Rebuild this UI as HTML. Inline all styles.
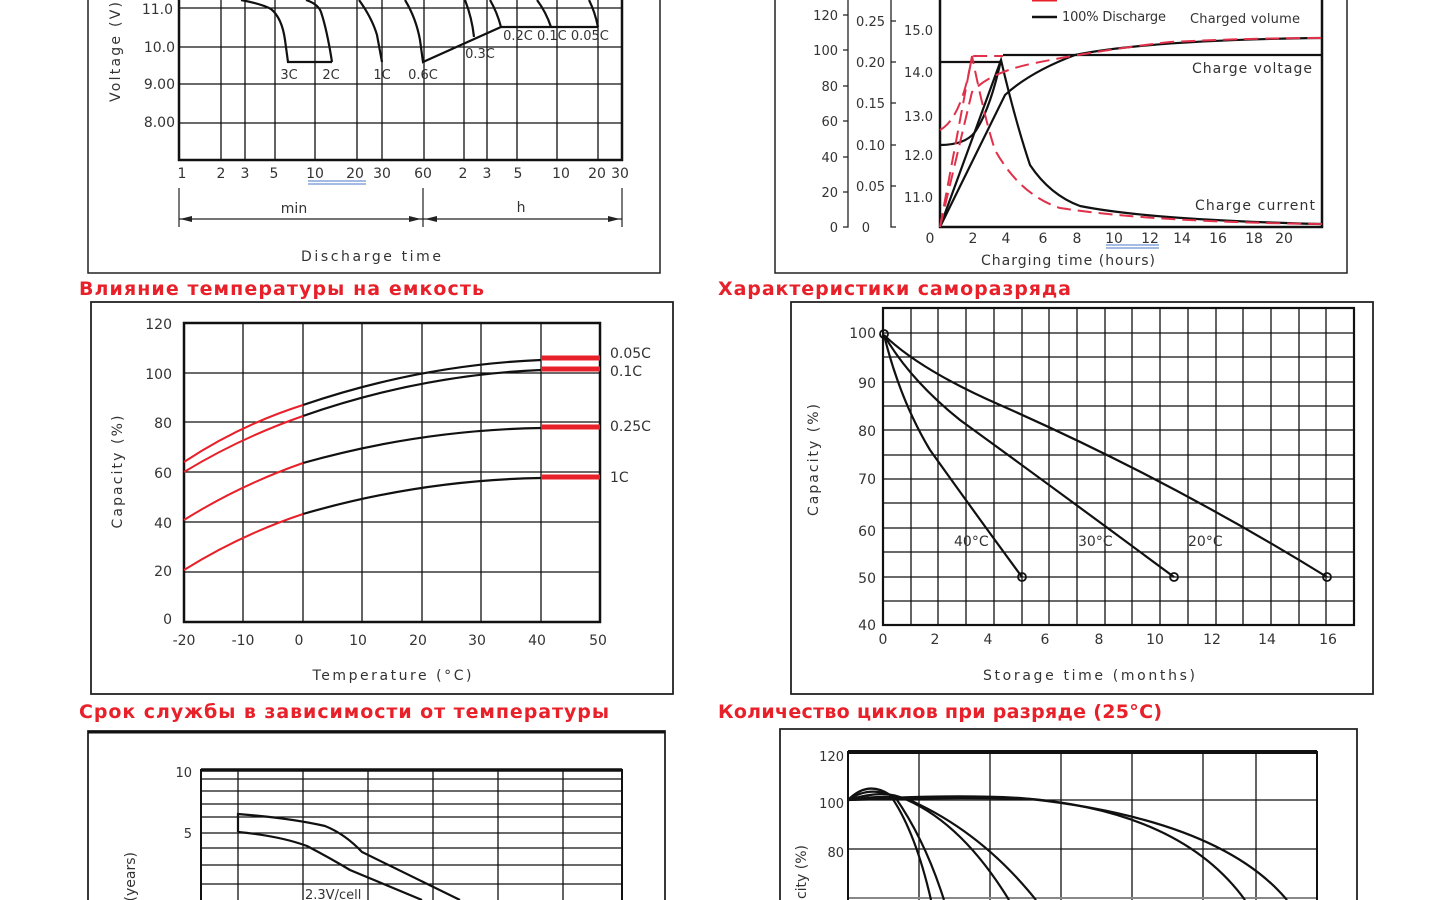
<!DOCTYPE html>
<html><head><meta charset="utf-8"><style>
html,body{margin:0;padding:0;background:#fff;}
svg{display:block;font-family:"DejaVu Sans","Liberation Sans",sans-serif;}
.t{font-size:14px;fill:#333}
.s{font-size:13px;fill:#333}
.h{font-size:19px;font-weight:bold;fill:#e8202a;font-family:"DejaVu Sans","Liberation Sans",sans-serif}
.g{stroke:#111;stroke-width:1.3;fill:none}
.c{stroke:#111;stroke-width:2.2;fill:none}
.r{stroke:#e8202a;stroke-width:2;fill:none}
.rd{stroke:#e0304a;stroke-width:2;fill:none;stroke-dasharray:14,7}
</style></head><body>
<svg width="1440" height="900" viewBox="0 0 1440 900">
<!-- ============ TOP LEFT ============ -->
<path d="M88 0V273H660V0" stroke="#222" stroke-width="1.5" fill="none"/>
<g class="g">
<path d="M179 8H622M179 47H622M179 84H622M179 123H622"/>
<path d="M221 0V160M245 0V160M275 0V160M315 0V160M357 0V160M382 0V160M424 0V160M464 0V160M487 0V160M517 0V160M557 0V160M598 0V160"/>
</g>
<path d="M179 0V160H622V0" stroke="#111" stroke-width="2.5" fill="none"/>
<g class="c">
<path d="M241 0Q262 4 271 9Q282 18 285 40L288 62H332"/>
<path d="M306 0Q318 4 321 12Q327 30 332 62"/>
<path d="M359 0Q372 18 377 35L382 62"/>
<path d="M405 0Q416 18 420 40L423 62L501 27H598"/>
<path d="M465 0Q472 18 474 37"/>
<path d="M490 0Q497 12 501 27"/>
<path d="M537 0Q546 12 551 27"/>
<path d="M589 0Q595 12 598 27"/>
</g>
<g class="s" text-anchor="middle">
<text x="289" y="79">3C</text><text x="331" y="79">2C</text><text x="382" y="79">1C</text><text x="423" y="79">0.6C</text>
<text x="480" y="58">0.3C</text><text x="556" y="40">0.2C 0.1C 0.05C</text>
</g>
<g class="t" text-anchor="end"><text x="173" y="14">11.0</text><text x="175" y="52">10.0</text><text x="175" y="89">9.00</text><text x="175" y="127">8.00</text></g>
<text class="t" transform="translate(120,52) rotate(-90)" text-anchor="middle" font-size="16" textLength="100">Voltage (V)</text>
<g class="t" text-anchor="middle">
<text x="182" y="178">1</text><text x="221" y="178">2</text><text x="245" y="178">3</text><text x="274" y="178">5</text><text x="315" y="178">10</text><text x="355" y="178">20</text><text x="382" y="178">30</text><text x="423" y="178">60</text><text x="463" y="178">2</text><text x="487" y="178">3</text><text x="518" y="178">5</text><text x="561" y="178">10</text><text x="597" y="178">20</text><text x="620" y="178">30</text>
</g>
<path d="M308 181H366M308 184H366" stroke="#4a78c8" stroke-width="1"/>
<path d="M179 188V227M423 188V227M622 188V227M179 219H622" stroke="#222" stroke-width="1.2" fill="none"/>
<path d="M180 219l12-3v6zM421 219l-12-3v6zM425 219l12-3v6zM620 219l-12-3v6z" fill="#222"/>
<text x="294" y="213" class="t" font-size="16" text-anchor="middle">min</text>
<text x="521" y="212" class="t" font-size="16" text-anchor="middle">h</text>
<text x="371" y="261" class="t" font-size="17" text-anchor="middle" textLength="140">Discharge time</text>

<!-- ============ TOP RIGHT ============ -->
<path d="M775 0V273H1347V0" stroke="#222" stroke-width="1.5" fill="none"/>
<path d="M940 0V227H1322V0" stroke="#111" stroke-width="2.5" fill="none"/>
<path d="M848 0V227H843M843 15h5M843 50h5M843 86h5M843 121h5M843 157h5M843 192h5" stroke="#222" stroke-width="1.3" fill="none"/>
<path d="M891 0V227H896M891 21h5M891 62h5M891 103h5M891 145h5M891 186h5" stroke="#222" stroke-width="1.3" fill="none"/>
<g class="s" text-anchor="end">
<text x="838" y="20">120</text><text x="838" y="55">100</text><text x="838" y="91">80</text><text x="838" y="126">60</text><text x="838" y="162">40</text><text x="838" y="197">20</text><text x="838" y="232">0</text>
<text x="885" y="26">0.25</text><text x="885" y="67">0.20</text><text x="885" y="108">0.15</text><text x="885" y="150">0.10</text><text x="885" y="191">0.05</text><text x="870" y="232">0</text>
<text x="933" y="35">15.0</text><text x="933" y="77">14.0</text><text x="933" y="121">13.0</text><text x="933" y="160">12.0</text><text x="933" y="202">11.0</text>
</g>
<path d="M1032 0H1057" stroke="#e8202a" stroke-width="3"/>
<path d="M1032 17H1057" stroke="#111" stroke-width="2.5"/>
<text x="1062" y="21" class="s" textLength="104">100% Discharge</text>
<text x="1190" y="23" class="s" textLength="110">Charged volume</text>
<text x="1192" y="73" class="t" textLength="120">Charge voltage</text>
<text x="1195" y="210" class="t" textLength="120">Charge current</text>
<g class="c" stroke-width="2">
<path d="M940 62H1001M1003 55H1322"/>
<path d="M940 145Q965 145 975 132Q990 110 1001 60"/>
<path d="M940 227L1001 60Q1015 120 1030 165Q1050 195 1080 206Q1150 220 1322 224"/>
<path d="M940 227L1005 95Q1030 72 1075 55Q1150 40 1322 38"/>
</g>
<g class="rd">
<path d="M940 130Q962 118 972 56H1003"/>
<path d="M940 227L972 56Q985 120 995 150Q1020 195 1060 208Q1150 222 1322 224"/>
<path d="M940 227L972 92Q990 72 1035 63Q1100 50 1170 42Q1250 38 1322 38"/>
</g>
<g class="t" text-anchor="middle">
<text x="930" y="243">0</text><text x="973" y="243">2</text><text x="1006" y="243">4</text><text x="1043" y="243">6</text><text x="1077" y="243">8</text><text x="1114" y="243">10</text><text x="1150" y="243">12</text><text x="1182" y="243">14</text><text x="1218" y="243">16</text><text x="1254" y="243">18</text><text x="1284" y="243">20</text>
</g>
<path d="M1106 245H1159M1106 248H1159" stroke="#4a78c8" stroke-width="1"/>
<text x="1068" y="265" class="t" font-size="16" text-anchor="middle" textLength="174">Charging time (hours)</text>

<!-- headers -->
<text x="79" y="295" class="h" textLength="405">Влияние температуры на емкость</text>
<text x="718" y="295" class="h" textLength="353">Характеристики саморазряда</text>
<text x="79" y="718" class="h" textLength="530">Срок службы в зависимости от температуры</text>
<text x="718" y="718" class="h" textLength="444">Количество циклов при разряде (25°C)</text>

<!-- ============ MIDDLE LEFT ============ -->
<rect x="91" y="302" width="582" height="392" fill="none" stroke="#222" stroke-width="1.8"/>
<g class="g">
<path d="M184 373H600M184 422H600M184 472H600M184 522H600M184 572H600"/>
<path d="M243 323V622M303 323V622M362 323V622M422 323V622M481 323V622M541 323V622"/>
</g>
<rect x="184" y="323" width="416" height="299" fill="none" stroke="#111" stroke-width="2.5"/>
<g class="r">
<path d="M184 462Q240 425 303 405"/><path d="M184 472Q240 438 303 416"/>
<path d="M184 520Q240 485 303 463"/><path d="M184 570Q240 535 303 514"/>
</g>
<g class="c" stroke-width="2">
<path d="M303 405Q420 365 541 360"/><path d="M303 416Q420 375 541 370"/>
<path d="M303 463Q420 430 541 428"/><path d="M303 514Q420 480 541 478"/>
</g>
<g stroke="#e8202a" stroke-width="5"><path d="M541 358H600M541 369H600M541 427H600M541 477H600"/></g>
<g class="t"><text x="610" y="358">0.05C</text><text x="610" y="376">0.1C</text><text x="610" y="431">0.25C</text><text x="610" y="482">1C</text></g>
<g class="t" text-anchor="end" font-size="15">
<text x="172" y="329">120</text><text x="172" y="379">100</text><text x="172" y="428">80</text><text x="172" y="478">60</text><text x="172" y="528">40</text><text x="172" y="576">20</text><text x="172" y="624">0</text>
</g>
<g class="t" text-anchor="middle" font-size="15">
<text x="184" y="645">-20</text><text x="243" y="645">-10</text><text x="299" y="645">0</text><text x="358" y="645">10</text><text x="418" y="645">20</text><text x="477" y="645">30</text><text x="537" y="645">40</text><text x="598" y="645">50</text>
</g>
<text x="392" y="680" class="t" font-size="18" text-anchor="middle" textLength="159">Temperature (°C)</text>
<text class="t" font-size="17" transform="translate(122,472) rotate(-90)" text-anchor="middle" textLength="113">Capacity (%)</text>

<!-- ============ MIDDLE RIGHT ============ -->
<rect x="791" y="302" width="582" height="392" fill="none" stroke="#222" stroke-width="1.8"/>
<g class="g" stroke-width="1.1">
<path d="M911 308V625M938 308V625M966 308V625M994 308V625M1022 308V625M1049 308V625M1077 308V625M1105 308V625M1132 308V625M1160 308V625M1188 308V625M1216 308V625M1243 308V625M1271 308V625M1299 308V625M1326 308V625"/>
<path d="M883 333H1354M883 357H1354M883 382H1354M883 406H1354M883 430H1354M883 455H1354M883 479H1354M883 503H1354M883 528H1354M883 552H1354M883 577H1354M883 601H1354"/>
</g>
<rect x="883" y="308" width="471" height="317" fill="none" stroke="#111" stroke-width="2.2"/>
<g class="c" stroke-width="2">
<path d="M884 335Q900 400 930 450Q980 520 1022 577"/>
<path d="M884 335Q910 380 960 420Q1070 500 1174 577"/>
<path d="M884 335Q920 370 1000 405Q1170 480 1327 577"/>
</g>
<g fill="none" stroke="#111" stroke-width="1.8">
<circle cx="884" cy="334" r="4"/><circle cx="1022" cy="577" r="4"/><circle cx="1174" cy="577" r="4"/><circle cx="1327" cy="577" r="4"/>
</g>
<g class="t"><text x="954" y="546">40°C</text><text x="1078" y="546">30°C</text><text x="1188" y="546">20°C</text></g>
<g class="t" text-anchor="end" font-size="15">
<text x="876" y="338">100</text><text x="876" y="388">90</text><text x="876" y="436">80</text><text x="876" y="484">70</text><text x="876" y="536">60</text><text x="876" y="583">50</text><text x="876" y="630">40</text>
</g>
<g class="t" text-anchor="middle" font-size="15">
<text x="883" y="644">0</text><text x="935" y="644">2</text><text x="988" y="644">4</text><text x="1045" y="644">6</text><text x="1099" y="644">8</text><text x="1155" y="644">10</text><text x="1212" y="644">12</text><text x="1267" y="644">14</text><text x="1328" y="644">16</text>
</g>
<text x="1089" y="680" class="t" font-size="18" text-anchor="middle" textLength="212">Storage time (months)</text>
<text class="t" font-size="17" transform="translate(818,460) rotate(-90)" text-anchor="middle" textLength="112">Capacity (%)</text>

<!-- ============ BOTTOM LEFT ============ -->
<path d="M88 900V731H665V900" stroke="#222" stroke-width="1.8" fill="none"/>
<path d="M88 732H665" stroke="#111" stroke-width="3"/>
<g class="g" stroke-width="1.2">
<path d="M201 779H622M201 791H622M201 804H622M201 817H622M201 833H622M201 848H622M201 865H622M201 884H622"/>
<path d="M238 770V900M303 770V900M368 770V900M433 770V900M498 770V900M563 770V900"/>
</g>
<path d="M201 900V770H622V900" stroke="#111" stroke-width="2" fill="none"/>
<path d="M201 770H622" stroke="#111" stroke-width="3.5"/>
<g class="c" stroke-width="2.3">
<path d="M238 832V814Q290 818 325 826Q345 834 362 852L460 900"/>
<path d="M238 832Q280 836 307 846Q330 858 350 870L422 900"/>
</g>
<text x="305" y="899" class="s">2.3V/cell</text>
<g class="s" text-anchor="end"><text x="192" y="777">10</text><text x="192" y="838">5</text></g>
<text class="t" font-size="16" transform="translate(135,852) rotate(-90)" text-anchor="end">Life (years)</text>

<!-- ============ BOTTOM RIGHT ============ -->
<path d="M780 900V729H1357V900" stroke="#222" stroke-width="1.8" fill="none"/>
<g class="g" stroke-width="1.2">
<path d="M848 800H1317M848 849H1317"/>
<path d="M919 752V900M990 752V900M1061 752V900M1132 752V900M1203 752V900M1256 752V900"/>
</g>
<path d="M848 898H1317" stroke="#888" stroke-width="2"/>
<path d="M848 900V752H1317V900" stroke="#111" stroke-width="2" fill="none"/>
<path d="M848 752H1317" stroke="#111" stroke-width="4"/>
<g class="c" stroke-width="2">
<path d="M848 800Q868 780 890 795Q915 830 931 900"/>
<path d="M848 800Q870 785 895 797Q925 840 944 900"/>
<path d="M848 800Q880 790 900 797Q960 820 1009 900"/>
<path d="M848 800Q880 795 905 798Q980 830 1036 900"/>
<path d="M848 800Q950 794 1020 798Q1180 810 1245 900"/>
<path d="M848 800Q950 797 1030 799Q1220 820 1287 900"/>
</g>
<g class="s" text-anchor="end"><text x="844" y="761">120</text><text x="844" y="808">100</text><text x="844" y="857">80</text></g>
<text class="t" font-size="16" transform="translate(806,845) rotate(-90)" text-anchor="end">Capacity (%)</text>
</svg>
</body></html>
